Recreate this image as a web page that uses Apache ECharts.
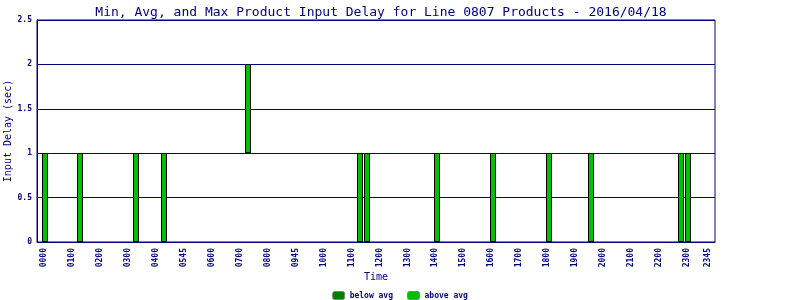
<!DOCTYPE html>
<html>
<head>
<meta charset="utf-8">
<script src="https://cdn.jsdelivr.net/npm/echarts@6/dist/echarts.min.js"></script>
<style>html,body{margin:0;padding:0;background:#fff}#c{width:800px;height:300px}</style>
</head>
<body>
<div id="c"></div>
<script>
// Bar times (hours of the day)
var times = [0.05, 1.3, 3.3, 4.3, 7.3, 11.3, 11.55, 14.05, 16.05, 18.05, 19.55, 22.8, 23.05];
var minVals = [0, 0, 0, 0, 1, 0, 0, 0, 0, 0, 0, 0, 0];
var avgVals = [0, 0, 0, 0, 1, 0, 0, 0, 0, 0, 0, 0, 0];
var maxVals = [1, 1, 1, 1, 2, 1, 1, 1, 1, 1, 1, 1, 1];
var tickValues = [0,1,2,3,4,5,6,7,8,9,10,11,12,13,14,15,16,17,18,19,20,21,22,23,23.75];
var tickLabels = ['0000','0100','0200','0300','0400','0545','0600','0700','0800','0945','1000','1100','1200','1300','1400','1500','1600','1700','1800','1900','2000','2100','2200','2300','2345'];

var NAVY = '#000080';
var FONT = 'DejaVu Sans Mono';
var belowData = times.map(function(t,i){return [t, minVals[i], avgVals[i]];});
var aboveData = times.map(function(t,i){return [t, avgVals[i], maxVals[i]];});

function makeRender(color){
  return function(params, api){
    var lo = api.coord([api.value(0), api.value(1)]);
    var hi = api.coord([api.value(0), api.value(2)]);
    var h = lo[1] - hi[1];
    if (h <= 0) return null;
    var x = Math.round(lo[0]) - 2.5;
    return {
      type: 'rect',
      shape: {x: x, y: Math.round(hi[1]) + 0.5, width: 5, height: Math.round(h) - 1},
      style: {fill: color, stroke: '#000', lineWidth: 1}
    };
  };
}

var chart = echarts.init(document.getElementById('c'), null, {renderer:'canvas'});
chart.setOption({
  animation: false,
  backgroundColor: '#fff',
  title: {
    text: 'Min, Avg, and Max Product Input Delay for Line 0807 Products - 2016/04/18',
    left: 376, top: 1, textAlign: 'center',
    textStyle: {fontFamily: FONT, fontSize: 13, fontWeight: 'normal', color: NAVY}
  },
  legend: {
    top: 286, left: 'center', itemWidth: 12, itemHeight: 8, itemGap: 14,
    textStyle: {fontFamily: FONT, fontSize: 8, fontWeight: 'bold', color: NAVY},
    itemStyle: {borderColor: '#808080', borderWidth: 1},
    data: ['below avg', 'above avg']
  },
  grid: {left: 37, right: 85, top: 20, bottom: 58, outerBoundsMode: 'none', containLabel: false,
         show: true, borderColor: NAVY, borderWidth: 1, backgroundColor: 'transparent'},
  xAxis: {
    type: 'value', min: -0.25, max: 24,
    name: 'Time', nameLocation: 'middle', nameGap: 30, nameMoveOverlap: false,
    nameTextStyle: {fontFamily: FONT, fontSize: 10, color: NAVY},
    axisLine: {show: true, onZero: false, lineStyle: {color: NAVY}},
    axisTick: {show: false},
    splitLine: {show: false},
    axisLabel: {
      customValues: tickValues, rotate: 90, margin: 6,
      fontFamily: FONT, fontSize: 8, fontWeight: 'bold', color: NAVY,
      formatter: function(v){ var i = tickValues.indexOf(v); return i >= 0 ? tickLabels[i] : ''; }
    }
  },
  yAxis: {
    type: 'value', min: 0, max: 2.5, interval: 0.5,
    name: 'Input Delay (sec)', nameLocation: 'middle', nameGap: 24, nameMoveOverlap: false,
    nameTextStyle: {fontFamily: FONT, fontSize: 10, color: NAVY},
    axisLine: {show: true, onZero: false, lineStyle: {color: NAVY}},
    axisTick: {show: true, inside: true, length: 4, lineStyle: {color: NAVY}},
    splitLine: {show: true, lineStyle: {color: NAVY, width: 1}},
    axisLabel: {fontFamily: FONT, fontSize: 8, fontWeight: 'bold', color: NAVY, margin: 5}
  },
  series: [
    {name: 'below avg', type: 'custom', data: belowData, renderItem: makeRender('#008000'),
     encode: {x: 0, y: [1, 2]}, itemStyle: {color: '#008000'}},
    {name: 'above avg', type: 'custom', data: aboveData, renderItem: makeRender('#00C000'),
     encode: {x: 0, y: [1, 2]}, itemStyle: {color: '#00C000'}}
  ]
});
</script>
</body>
</html>
